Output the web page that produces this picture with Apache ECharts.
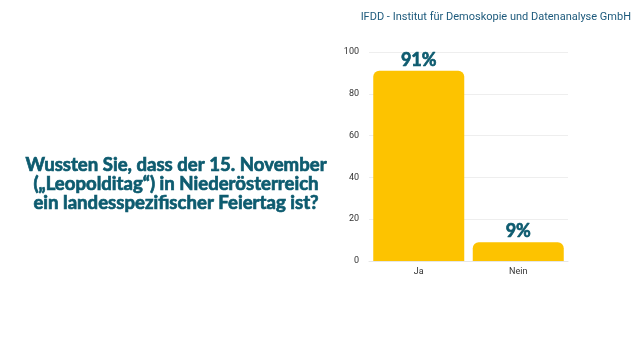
<!DOCTYPE html>
<html><head><meta charset="utf-8">
<script src="https://cdn.jsdelivr.net/npm/echarts@6/dist/echarts.min.js"></script>
<style>html,body{margin:0;padding:0;background:#fff}#c{width:640px;height:360px}</style>
</head><body><div id="c"></div>
<script>
const categories = ['Ja', 'Nein'];
const values = [91, 9];
const yTicks = [0, 20, 40, 60, 80, 100];
const titleText = 'Wussten Sie, dass der 15. November\n(„Leopolditag“) in Niederösterreich\nein landesspezifischer Feiertag ist?';
const sourceText = 'IFDD - Institut für Demoskopie und Datenanalyse GmbH';

const chart = echarts.init(document.getElementById('c'), null, {renderer: 'canvas'});
chart.setOption({
  animation: false,
  title: [
    {text: titleText, left: 171, top: 150, textAlign: 'center',
     textStyle: {fontFamily: 'Lato', fontWeight: 'bold', fontSize: 18.6, lineHeight: 19,
       color: '#0d5b6f', textBorderColor: '#0d5b6f', textBorderWidth: 0.7}},
    {text: sourceText, right: 4, top: 7,
     textStyle: {fontFamily: 'Roboto', fontWeight: 'normal', fontSize: 11, color: '#1d5a7c'}}
  ],
  grid: {left: 369, right: 72, top: 52, bottom: 99},
  xAxis: {type: 'category', data: categories,
    axisLine: {lineStyle: {color: '#e6e6e6'}}, axisTick: {show: false},
    axisLabel: {color: '#333', fontSize: 9, fontFamily: 'Roboto', margin: 6}},
  yAxis: {type: 'value', min: 0, max: 100, interval: 20,
    axisLabel: {color: '#333', fontSize: 9, fontFamily: 'Roboto', margin: 10,
      formatter: v => yTicks.includes(v) ? String(v) : ''},
    splitLine: {lineStyle: {color: '#eeeeee'}}},
  series: [{type: 'bar', data: values, barWidth: 91,
    itemStyle: {color: '#fdc300', borderRadius: [6, 6, 0, 0]},
    label: {show: true, position: 'top', distance: 2, formatter: p => p.value + '%',
      fontFamily: 'Lato', fontWeight: 'bold', fontSize: 18, color: '#0d5b6f',
      textBorderColor: '#0d5b6f', textBorderWidth: 0.7}}]
});
</script></body></html>
